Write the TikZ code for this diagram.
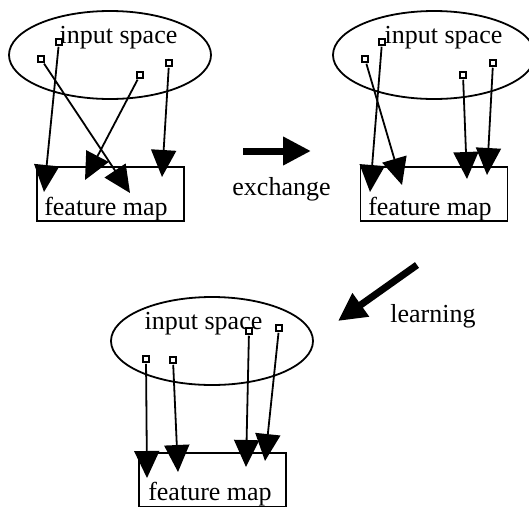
\documentclass[tikz,border=0pt]{standalone}
\usepackage{fontspec}
\setmainfont{Liberation Serif}
\usetikzlibrary{arrows.meta,shapes.geometric}
\tikzset{
  space/.style={draw,ellipse,line width=1.8pt,minimum width=202pt,minimum height=88pt,inner sep=0pt},
  fmap/.style={draw,rectangle,line width=1.8pt,minimum width=147pt,minimum height=54pt,inner sep=0pt},
  unit/.style={draw,rectangle,line width=1.5pt,minimum size=6pt,inner sep=0pt,fill=white},
  word/.style={font=\fontsize{26}{30}\selectfont,anchor=base,inner sep=0pt},
  link/.style={line width=1.8pt,-{Triangle[length=27pt,width=25pt]},shorten <=1pt},
  bigarrow/.style={line width=7pt,-{Triangle[length=28pt,width=27pt]}}
}
\begin{document}
\begin{tikzpicture}[x=1pt,y=-1pt]
\useasboundingbox (0,0) rectangle (529,506);
% first picture
\node[space] (e1) at (110,55) {};
\node[fmap] (r1) at (110.5,194) {};
\node[word] (t1) at (118.5,43) {input space};
\node[word] (f1) at (106,215) {feature map};
\node[unit] (a1) at (59,42) {};
\node[unit] (b1) at (41,59) {};
\node[unit] (c1) at (140,75) {};
\node[unit] (d1) at (169,63) {};
\coordinate (pa1) at (44,192);
\coordinate (pb1) at (130,193);
\coordinate (pc1) at (85,180);
\coordinate (pd1) at (162,177);
\draw[link] (a1) -- (pa1);
\draw[link] (b1) -- (pb1);
\draw[link] (c1) -- (pc1);
\draw[link] (d1) -- (pd1);
% second picture
\node[space] (e2) at (434,55) {};
\node[fmap] (r2) at (434,194) {};
\node[word] (t2) at (443.5,43) {input space};
\node[word] (f2) at (430,215) {feature map};
\node[unit] (a2) at (382,42) {};
\node[unit] (b2) at (365,59) {};
\node[unit] (c2) at (463,75) {};
\node[unit] (d2) at (493,63) {};
\coordinate (pa2) at (370,192);
\coordinate (pb2) at (402,185);
\coordinate (pc2) at (467,179);
\coordinate (pd2) at (487,175);
\draw[link] (a2) -- (pa2);
\draw[link] (b2) -- (pb2);
\draw[link] (c2) -- (pc2);
\draw[link] (d2) -- (pd2);
% third picture
\node[space] (e3) at (212,341) {};
\node[fmap] (r3) at (212.5,480) {};
\node[word] (t3) at (203.5,329) {input space};
\node[word] (f3) at (210,500) {feature map};
\node[unit] (a3) at (146,359) {};
\node[unit] (b3) at (173,360) {};
\node[unit] (c3) at (249,331) {};
\node[unit] (d3) at (279,328) {};
\coordinate (pa3) at (147,478);
\coordinate (pb3) at (178,472);
\coordinate (pc3) at (246,467);
\coordinate (pd3) at (265,461);
\draw[link] (a3) -- (pa3);
\draw[link] (b3) -- (pb3);
\draw[link] (c3) -- (pc3);
\draw[link] (d3) -- (pd3);
% steps
\coordinate (x0) at (243,151);
\coordinate (x1) at (311,151);
\draw[bigarrow] (x0) -- (x1);
\node[word] (ex) at (281.5,195) {exchange};
\coordinate (l0) at (417,265);
\coordinate (l1) at (338,321);
\draw[bigarrow] (l0) -- (l1);
\node[word] (le) at (433,322) {learning};
\end{tikzpicture}
\end{document}
